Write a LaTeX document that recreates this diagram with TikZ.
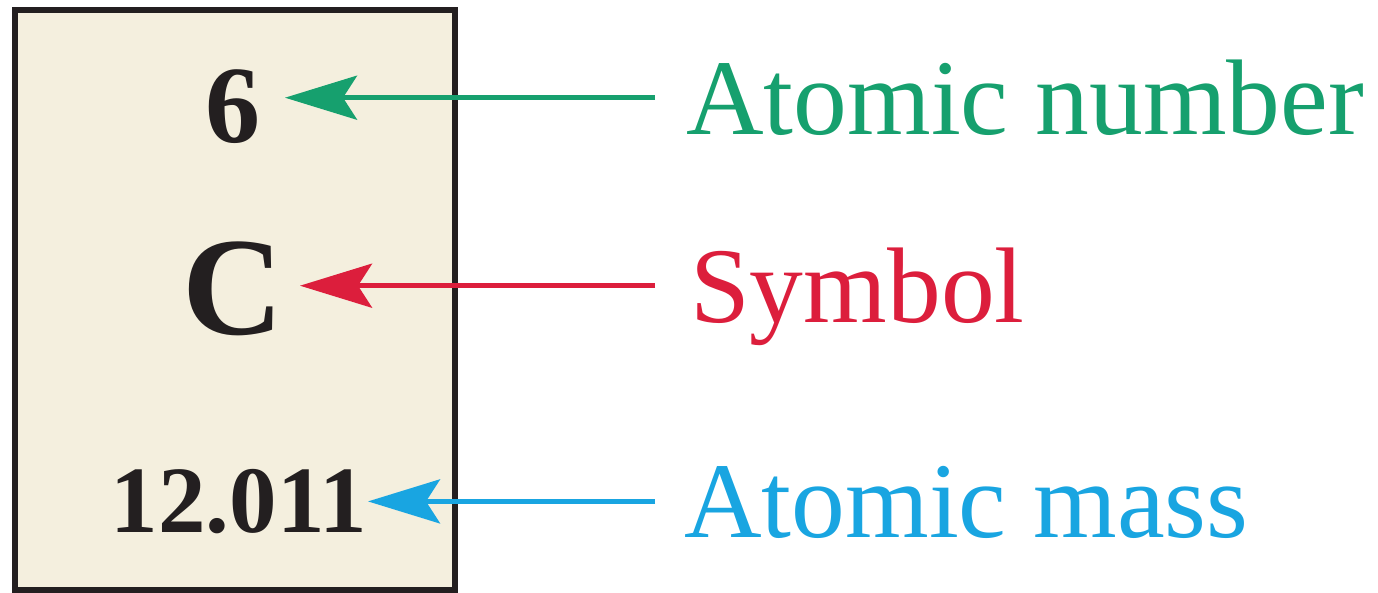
\documentclass[tikz,border=0pt]{standalone}
\usepackage{fontspec}
\setmainfont{Liberation Serif}
\usetikzlibrary{arrows.meta}
\definecolor{cream}{HTML}{F4EFDE}
\definecolor{boxline}{HTML}{231F20}
\definecolor{lgreen}{HTML}{16A06E}
\definecolor{lred}{HTML}{DC1E3C}
\definecolor{lblue}{HTML}{19A5E1}
\tikzset{
  cell/.style={draw=boxline, fill=cream, line width=5.5pt, minimum width=440pt, minimum height=580pt, inner sep=0pt},
  num/.style={inner sep=0pt, anchor=base east, text=boxline, font=\bfseries},
  lab/.style={inner sep=0pt, anchor=base west, text depth=0pt},
  pointer/.style={line width=4.8pt, -{Stealth[length=72pt, width=44pt, inset=14pt]}},
}
\begin{document}
\begin{tikzpicture}[x=1pt,y=-1pt]
\useasboundingbox (0,0) rectangle (1378,593);
\node[cell] (cell) at (235,300) {};
\node[num, font=\bfseries\fontsize{110}{120}\selectfont] (six) at (261,143) {6};
\node[num, font=\bfseries\fontsize{140}{150}\selectfont] (sym) at (284,335) {C};
\node[num, font=\bfseries\fontsize{95}{105}\selectfont] (mass) at (367,532) {12.011};
\node[lab, text=lgreen, font=\fontsize{107.5}{117}\selectfont] (an) at (686,135) {Atomic number};
\node[lab, text=lred, font=\fontsize{107.5}{117}\selectfont] (sl) at (690,323) {Symbol};
\node[lab, text=lblue, font=\fontsize{107.5}{117}\selectfont] (am) at (684,537) {Atomic mass};
\draw[pointer, lgreen] ([xshift=-31pt]an.west) -- ([xshift=24pt]six.east |- an.west);
\draw[pointer, lred] ([xshift=-35pt]sl.west) -- ([xshift=16pt]sym.east |- sl.west);
\draw[pointer, lblue] ([xshift=-29pt]am.west) -- ([xshift=1pt]mass.east |- am.west);
\end{tikzpicture}
\end{document}
